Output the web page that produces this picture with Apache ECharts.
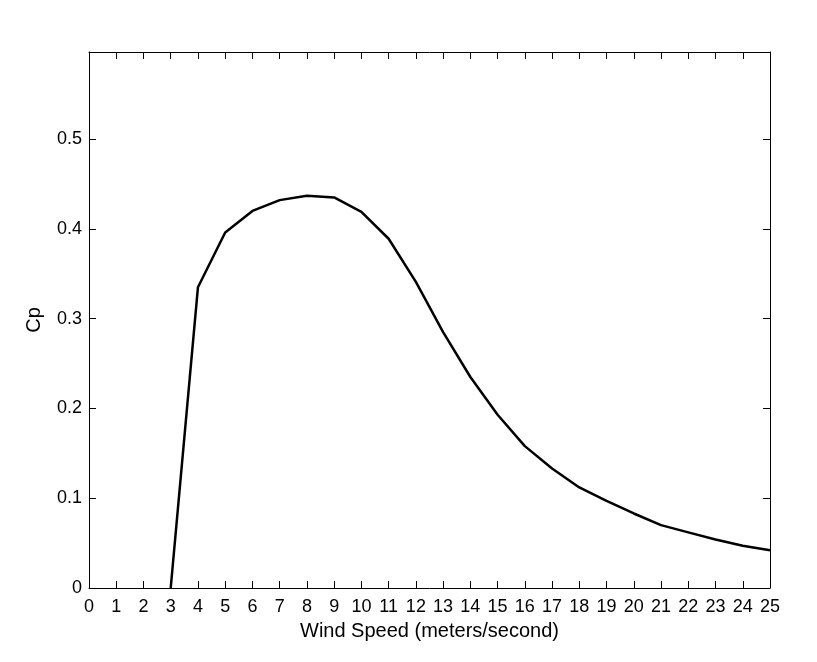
<!DOCTYPE html>
<html>
<head>
<meta charset="utf-8">
<script src="https://cdn.jsdelivr.net/npm/echarts@6/dist/echarts.min.js"></script>
<style>
html,body{margin:0;padding:0;background:#fff;}
#chart{width:817px;height:662px;}
</style>
</head>
<body>
<div id="chart"></div>
<script>
const windSpeed = [3, 4, 5, 6, 7, 8, 9, 10, 11, 12, 13, 14, 15, 16, 17, 18, 19, 20, 21, 22, 23, 24, 25];
const cpValues = [0, 0.335, 0.396, 0.420, 0.432, 0.437, 0.435, 0.419, 0.389, 0.341, 0.285, 0.235, 0.193, 0.158, 0.133, 0.112, 0.097, 0.083, 0.070, 0.062, 0.054, 0.047, 0.042];
const xTickStep = 1;
const yTickStep = 0.1;
const xName = 'Wind Speed (meters/second)';
const yName = 'Cp';

const FONT = '"Liberation Sans", Arial, Helvetica, sans-serif';
const chart = echarts.init(document.getElementById('chart'));
const lineBlack = {show: true, onZero: false, lineStyle: {color: '#000', width: 1}};
const tickIn = {show: true, inside: true, length: 7, lineStyle: {color: '#000', width: 1}};

chart.setOption({
  animation: false,
  backgroundColor: '#fff',
  grid: {left: 89, right: 47, top: 52, bottom: 74, containLabel: false},
  xAxis: [
    {
      type: 'value', position: 'bottom', min: 0, max: 25, interval: xTickStep,
      axisLine: lineBlack, axisTick: tickIn, splitLine: {show: false},
      axisLabel: {color: '#000', fontSize: 18, fontFamily: FONT, margin: 10},
      name: xName, nameLocation: 'middle', nameGap: 33,
      nameTextStyle: {color: '#000', fontSize: 20, fontFamily: FONT}
    },
    {
      type: 'value', position: 'top', min: 0, max: 25, interval: xTickStep,
      axisLine: lineBlack, axisTick: tickIn, splitLine: {show: false},
      axisLabel: {show: false}
    }
  ],
  yAxis: [
    {
      type: 'value', position: 'left', min: 0, max: 0.597, interval: yTickStep,
      axisLine: lineBlack, axisTick: tickIn, splitLine: {show: false},
      axisLabel: {color: '#000', fontSize: 18, fontFamily: FONT, margin: 7, showMaxLabel: false,
        formatter: v => (Math.abs(v / yTickStep - Math.round(v / yTickStep)) < 1e-6 ? (v === 0 ? '0' : String(+v.toFixed(1))) : '')},
      name: yName, nameLocation: 'middle', nameGap: 45, nameRotate: 90,
      nameTextStyle: {color: '#000', fontSize: 20, fontFamily: FONT}
    },
    {
      type: 'value', position: 'right', min: 0, max: 0.597, interval: yTickStep,
      axisLine: lineBlack, axisTick: tickIn, splitLine: {show: false},
      axisLabel: {show: false}
    }
  ],
  series: [{
    type: 'line',
    xAxisIndex: 0, yAxisIndex: 0,
    data: windSpeed.map((w, i) => [w, cpValues[i]]),
    symbol: 'none',
    lineStyle: {color: '#000', width: 2.5},
    clip: false
  }]
});
</script>
</body>
</html>
